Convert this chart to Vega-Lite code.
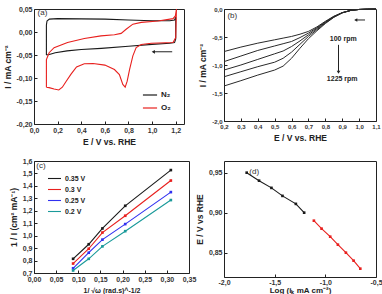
{
  "$schema": "https://vega.github.io/schema/vega-lite/v6.json",
  "padding": {"left": 2, "top": 4, "right": 2, "bottom": 0},
  "background": "white",
  "config": {
    "font": "Liberation Sans",
    "locale": {"number": {"decimal": ",", "thousands": ".", "grouping": [3], "currency": ["", ""], "minus": "-"}},
    "view": {"stroke": "#222", "strokeWidth": 1},
    "axis": {"grid": false, "domain": false, "tickColor": "#222", "tickSize": -3, "labelPadding": 5, "labelFontSize": 7, "labelFontWeight": "bold", "labelColor": "#333", "titleFontSize": 8.5, "titleFontWeight": "bold", "titleColor": "#222", "titlePadding": 4, "labelFlush": false, "labelOverlap": false},
    "legend": {"title": null, "labelFontWeight": "bold", "labelColor": "#222"}
  },
  "datasets": {
    "cv": [
      {"gas": "N₂", "i": 1, "E": 0.105, "I": -0.05},
      {"gas": "N₂", "i": 2, "E": 0.105, "I": 0.015},
      {"gas": "N₂", "i": 3, "E": 0.11, "I": 0.024},
      {"gas": "N₂", "i": 4, "E": 0.13, "I": 0.028},
      {"gas": "N₂", "i": 5, "E": 0.2, "I": 0.029},
      {"gas": "N₂", "i": 6, "E": 0.4, "I": 0.0285},
      {"gas": "N₂", "i": 7, "E": 0.6, "I": 0.028},
      {"gas": "N₂", "i": 8, "E": 0.8, "I": 0.026},
      {"gas": "N₂", "i": 9, "E": 1.0, "I": 0.0245},
      {"gas": "N₂", "i": 10, "E": 1.15, "I": 0.0245},
      {"gas": "N₂", "i": 11, "E": 1.19, "I": 0.026},
      {"gas": "N₂", "i": 12, "E": 1.2, "I": 0.032},
      {"gas": "N₂", "i": 13, "E": 1.2, "I": -0.015},
      {"gas": "N₂", "i": 14, "E": 1.19, "I": -0.023},
      {"gas": "N₂", "i": 15, "E": 1.15, "I": -0.0245},
      {"gas": "N₂", "i": 16, "E": 1.0, "I": -0.027},
      {"gas": "N₂", "i": 17, "E": 0.8, "I": -0.031},
      {"gas": "N₂", "i": 18, "E": 0.57, "I": -0.0355},
      {"gas": "N₂", "i": 19, "E": 0.4, "I": -0.038},
      {"gas": "N₂", "i": 20, "E": 0.28, "I": -0.041},
      {"gas": "N₂", "i": 21, "E": 0.18, "I": -0.045},
      {"gas": "N₂", "i": 22, "E": 0.13, "I": -0.049},
      {"gas": "N₂", "i": 23, "E": 0.105, "I": -0.05},
      {"gas": "O₂", "i": 1, "E": 0.105, "I": -0.12},
      {"gas": "O₂", "i": 2, "E": 0.105, "I": -0.06},
      {"gas": "O₂", "i": 3, "E": 0.128, "I": -0.045},
      {"gas": "O₂", "i": 4, "E": 0.17, "I": -0.034},
      {"gas": "O₂", "i": 5, "E": 0.284, "I": -0.023},
      {"gas": "O₂", "i": 6, "E": 0.426, "I": -0.014},
      {"gas": "O₂", "i": 7, "E": 0.567, "I": -0.0085},
      {"gas": "O₂", "i": 8, "E": 0.681, "I": -0.006},
      {"gas": "O₂", "i": 9, "E": 0.738, "I": -0.003},
      {"gas": "O₂", "i": 10, "E": 0.78, "I": 0.006},
      {"gas": "O₂", "i": 11, "E": 0.837, "I": 0.017},
      {"gas": "O₂", "i": 12, "E": 0.908, "I": 0.021},
      {"gas": "O₂", "i": 13, "E": 1.05, "I": 0.024},
      {"gas": "O₂", "i": 14, "E": 1.177, "I": 0.029},
      {"gas": "O₂", "i": 15, "E": 1.197, "I": 0.035},
      {"gas": "O₂", "i": 16, "E": 1.206, "I": 0.05},
      {"gas": "O₂", "i": 17, "E": 1.2, "I": -0.012},
      {"gas": "O₂", "i": 18, "E": 1.177, "I": -0.023},
      {"gas": "O₂", "i": 19, "E": 0.993, "I": -0.0246},
      {"gas": "O₂", "i": 20, "E": 0.908, "I": -0.027},
      {"gas": "O₂", "i": 21, "E": 0.865, "I": -0.034},
      {"gas": "O₂", "i": 22, "E": 0.837, "I": -0.052},
      {"gas": "O₂", "i": 23, "E": 0.809, "I": -0.0816},
      {"gas": "O₂", "i": 24, "E": 0.789, "I": -0.107},
      {"gas": "O₂", "i": 25, "E": 0.772, "I": -0.12},
      {"gas": "O₂", "i": 26, "E": 0.752, "I": -0.114},
      {"gas": "O₂", "i": 27, "E": 0.723, "I": -0.0925},
      {"gas": "O₂", "i": 28, "E": 0.681, "I": -0.0816},
      {"gas": "O₂", "i": 29, "E": 0.6, "I": -0.072},
      {"gas": "O₂", "i": 30, "E": 0.5, "I": -0.0685},
      {"gas": "O₂", "i": 31, "E": 0.426, "I": -0.069},
      {"gas": "O₂", "i": 32, "E": 0.36, "I": -0.076},
      {"gas": "O₂", "i": 33, "E": 0.312, "I": -0.092},
      {"gas": "O₂", "i": 34, "E": 0.27, "I": -0.108},
      {"gas": "O₂", "i": 35, "E": 0.24, "I": -0.12},
      {"gas": "O₂", "i": 36, "E": 0.21, "I": -0.126},
      {"gas": "O₂", "i": 37, "E": 0.17, "I": -0.124},
      {"gas": "O₂", "i": 38, "E": 0.128, "I": -0.121},
      {"gas": "O₂", "i": 39, "E": 0.105, "I": -0.12}
    ],
    "lsv": [
      {"rpm": 100, "E": 0.2, "I": -0.76}, {"rpm": 100, "E": 0.3, "I": -0.68}, {"rpm": 100, "E": 0.4, "I": -0.61}, {"rpm": 100, "E": 0.5, "I": -0.55}, {"rpm": 100, "E": 0.55, "I": -0.52}, {"rpm": 100, "E": 0.6, "I": -0.49}, {"rpm": 100, "E": 0.65, "I": -0.45}, {"rpm": 100, "E": 0.7, "I": -0.4}, {"rpm": 100, "E": 0.75, "I": -0.32}, {"rpm": 100, "E": 0.8, "I": -0.22}, {"rpm": 100, "E": 0.85, "I": -0.13}, {"rpm": 100, "E": 0.9, "I": -0.065}, {"rpm": 100, "E": 0.95, "I": -0.025}, {"rpm": 100, "E": 1.0, "I": -0.008}, {"rpm": 100, "E": 1.05, "I": -0.002}, {"rpm": 100, "E": 1.1, "I": 0},
      {"rpm": 225, "E": 0.2, "I": -0.94}, {"rpm": 225, "E": 0.3, "I": -0.84}, {"rpm": 225, "E": 0.4, "I": -0.74}, {"rpm": 225, "E": 0.5, "I": -0.66}, {"rpm": 225, "E": 0.55, "I": -0.62}, {"rpm": 225, "E": 0.6, "I": -0.58}, {"rpm": 225, "E": 0.65, "I": -0.51}, {"rpm": 225, "E": 0.7, "I": -0.43}, {"rpm": 225, "E": 0.75, "I": -0.335}, {"rpm": 225, "E": 0.8, "I": -0.23}, {"rpm": 225, "E": 0.85, "I": -0.135}, {"rpm": 225, "E": 0.9, "I": -0.066}, {"rpm": 225, "E": 0.95, "I": -0.025}, {"rpm": 225, "E": 1.0, "I": -0.008}, {"rpm": 225, "E": 1.05, "I": -0.002}, {"rpm": 225, "E": 1.1, "I": 0},
      {"rpm": 400, "E": 0.2, "I": -1.09}, {"rpm": 400, "E": 0.3, "I": -1.0}, {"rpm": 400, "E": 0.4, "I": -0.9}, {"rpm": 400, "E": 0.5, "I": -0.8}, {"rpm": 400, "E": 0.55, "I": -0.75}, {"rpm": 400, "E": 0.6, "I": -0.67}, {"rpm": 400, "E": 0.65, "I": -0.57}, {"rpm": 400, "E": 0.7, "I": -0.46}, {"rpm": 400, "E": 0.75, "I": -0.35}, {"rpm": 400, "E": 0.8, "I": -0.24}, {"rpm": 400, "E": 0.85, "I": -0.14}, {"rpm": 400, "E": 0.9, "I": -0.067}, {"rpm": 400, "E": 0.95, "I": -0.025}, {"rpm": 400, "E": 1.0, "I": -0.008}, {"rpm": 400, "E": 1.05, "I": -0.002}, {"rpm": 400, "E": 1.1, "I": 0},
      {"rpm": 625, "E": 0.2, "I": -1.21}, {"rpm": 625, "E": 0.3, "I": -1.12}, {"rpm": 625, "E": 0.4, "I": -1.03}, {"rpm": 625, "E": 0.5, "I": -0.95}, {"rpm": 625, "E": 0.55, "I": -0.88}, {"rpm": 625, "E": 0.6, "I": -0.77}, {"rpm": 625, "E": 0.65, "I": -0.63}, {"rpm": 625, "E": 0.7, "I": -0.49}, {"rpm": 625, "E": 0.75, "I": -0.37}, {"rpm": 625, "E": 0.8, "I": -0.25}, {"rpm": 625, "E": 0.85, "I": -0.145}, {"rpm": 625, "E": 0.9, "I": -0.068}, {"rpm": 625, "E": 0.95, "I": -0.026}, {"rpm": 625, "E": 1.0, "I": -0.008}, {"rpm": 625, "E": 1.05, "I": -0.002}, {"rpm": 625, "E": 1.1, "I": 0},
      {"rpm": 1225, "E": 0.2, "I": -1.375}, {"rpm": 1225, "E": 0.3, "I": -1.28}, {"rpm": 1225, "E": 0.4, "I": -1.18}, {"rpm": 1225, "E": 0.5, "I": -1.09}, {"rpm": 1225, "E": 0.55, "I": -1.02}, {"rpm": 1225, "E": 0.6, "I": -0.88}, {"rpm": 1225, "E": 0.65, "I": -0.7}, {"rpm": 1225, "E": 0.7, "I": -0.53}, {"rpm": 1225, "E": 0.75, "I": -0.39}, {"rpm": 1225, "E": 0.8, "I": -0.26}, {"rpm": 1225, "E": 0.85, "I": -0.15}, {"rpm": 1225, "E": 0.9, "I": -0.07}, {"rpm": 1225, "E": 0.95, "I": -0.027}, {"rpm": 1225, "E": 1.0, "I": -0.008}, {"rpm": 1225, "E": 1.05, "I": -0.002}, {"rpm": 1225, "E": 1.1, "I": 0}
    ],
    "kl": [
      {"pot": "0.35 V", "x": 0.0883, "y": 0.814}, {"pot": "0.35 V", "x": 0.1236, "y": 0.931}, {"pot": "0.35 V", "x": 0.1545, "y": 1.058}, {"pot": "0.35 V", "x": 0.206, "y": 1.24}, {"pot": "0.35 V", "x": 0.309, "y": 1.527},
      {"pot": "0.3 V", "x": 0.0883, "y": 0.776}, {"pot": "0.3 V", "x": 0.1236, "y": 0.895}, {"pot": "0.3 V", "x": 0.1545, "y": 1.025}, {"pot": "0.3 V", "x": 0.206, "y": 1.16}, {"pot": "0.3 V", "x": 0.309, "y": 1.443},
      {"pot": "0.25 V", "x": 0.0883, "y": 0.738}, {"pot": "0.25 V", "x": 0.1236, "y": 0.863}, {"pot": "0.25 V", "x": 0.1545, "y": 0.968}, {"pot": "0.25 V", "x": 0.206, "y": 1.093}, {"pot": "0.25 V", "x": 0.309, "y": 1.35},
      {"pot": "0.2 V", "x": 0.0883, "y": 0.72}, {"pot": "0.2 V", "x": 0.1236, "y": 0.814}, {"pot": "0.2 V", "x": 0.1545, "y": 0.914}, {"pot": "0.2 V", "x": 0.206, "y": 1.036}, {"pot": "0.2 V", "x": 0.309, "y": 1.286}
    ],
    "tafel": [
      {"seg": "low", "x": -1.776, "y": 0.95}, {"seg": "low", "x": -1.654, "y": 0.94}, {"seg": "low", "x": -1.532, "y": 0.931}, {"seg": "low", "x": -1.423, "y": 0.921}, {"seg": "low", "x": -1.291, "y": 0.911}, {"seg": "low", "x": -1.209, "y": 0.9},
      {"seg": "high", "x": -1.113, "y": 0.89}, {"seg": "high", "x": -1.037, "y": 0.88}, {"seg": "high", "x": -0.952, "y": 0.87}, {"seg": "high", "x": -0.876, "y": 0.86}, {"seg": "high", "x": -0.797, "y": 0.85}, {"seg": "high", "x": -0.721, "y": 0.84}, {"seg": "high", "x": -0.655, "y": 0.83}
    ]
  },
  "bounds": "flush",
  "columns": 2,
  "spacing": {"column": 35, "row": 37},
  "resolve": {"scale": {"color": "independent"}, "legend": {"color": "independent"}},
  "concat": [
    {
      "width": 150, "height": 115,
      "layer": [
        {
          "data": {"name": "cv"},
          "mark": {"type": "line", "strokeWidth": 1.1},
          "encoding": {
            "x": {"field": "E", "type": "quantitative", "scale": {"domain": [0, 1.27], "nice": false}, "axis": {"title": "E / V vs. RHE", "values": [0, 0.2, 0.4, 0.6, 0.8, 1.0, 1.2], "format": ".1f"}},
            "y": {"field": "I", "type": "quantitative", "scale": {"domain": [-0.2, 0.05], "nice": false}, "axis": {"title": "I / mA cm⁻²", "values": [-0.2, -0.15, -0.1, -0.05, 0, 0.05], "format": ".2f"}},
            "color": {"field": "gas", "type": "nominal", "scale": {"domain": ["N₂", "O₂"], "range": ["#1a1a1a", "#e8201e"]}, "legend": {"orient": "none", "legendX": 108, "legendY": 78, "symbolType": "stroke", "symbolSize": 200, "symbolStrokeWidth": 1.2, "labelFontSize": 8, "rowPadding": 1, "labelOffset": 3}},
            "order": {"field": "i", "type": "quantitative"}
          }
        },
        {
          "data": {"values": [{}]},
          "mark": {"type": "rule", "color": "#222", "strokeWidth": 1},
          "encoding": {
            "x": {"datum": 1.01, "type": "quantitative", "axis": {"title": "E / V vs. RHE", "values": [0, 0.2, 0.4, 0.6, 0.8, 1.0, 1.2], "format": ".1f"}},
            "x2": {"datum": 1.17},
            "y": {"datum": -0.043, "type": "quantitative", "axis": {"title": "I / mA cm⁻²", "values": [-0.2, -0.15, -0.1, -0.05, 0, 0.05], "format": ".2f"}}
          }
        },
        {
          "data": {"values": [{}]},
          "mark": {"type": "point", "shape": "triangle-left", "filled": true, "color": "#222", "size": 14, "opacity": 1},
          "encoding": {
            "x": {"datum": 1.01, "type": "quantitative", "axis": {"title": "E / V vs. RHE", "values": [0, 0.2, 0.4, 0.6, 0.8, 1.0, 1.2], "format": ".1f"}},
            "y": {"datum": -0.043, "type": "quantitative", "axis": {"title": "I / mA cm⁻²", "values": [-0.2, -0.15, -0.1, -0.05, 0, 0.05], "format": ".2f"}}
          }
        },
        {
          "data": {"values": [{"t": "(a)"}]},
          "mark": {"type": "text", "fontSize": 8, "align": "left", "baseline": "middle", "color": "#333"},
          "encoding": {
            "text": {"field": "t"},
            "x": {"datum": 0.03, "type": "quantitative", "axis": {"title": "E / V vs. RHE", "values": [0, 0.2, 0.4, 0.6, 0.8, 1.0, 1.2], "format": ".1f"}},
            "y": {"datum": 0.042, "type": "quantitative", "axis": {"title": "I / mA cm⁻²", "values": [-0.2, -0.15, -0.1, -0.05, 0, 0.05], "format": ".2f"}}
          }
        }
      ]
    },
    {
      "width": 152, "height": 112,
      "layer": [
        {
          "data": {"name": "lsv"},
          "mark": {"type": "line", "strokeWidth": 1, "color": "#2a2a2a"},
          "encoding": {
            "x": {"field": "E", "type": "quantitative", "scale": {"domain": [0.2, 1.1], "nice": false}, "axis": {"title": "E / V vs. RHE", "values": [0.2, 0.3, 0.4, 0.5, 0.6, 0.7, 0.8, 0.9, 1.0, 1.1], "format": ".1f", "labelFontSize": 6}},
            "y": {"field": "I", "type": "quantitative", "scale": {"domain": [-2, 0], "nice": false}, "axis": {"title": "I / mA cm⁻²", "values": [-2, -1.5, -1, -0.5, 0], "format": ".1f", "labelFontSize": 6}},
            "detail": {"field": "rpm", "type": "nominal"}
          }
        },
        {
          "data": {"values": [{"t": "100 rpm", "E": 0.906, "I": -0.54}, {"t": "1225 rpm", "E": 0.9, "I": -1.25}]},
          "mark": {"type": "text", "fontSize": 7, "fontWeight": "bold", "color": "#222"},
          "encoding": {
            "text": {"field": "t"},
            "x": {"field": "E", "type": "quantitative", "axis": {"title": "E / V vs. RHE", "values": [0.2, 0.3, 0.4, 0.5, 0.6, 0.7, 0.8, 0.9, 1.0, 1.1], "format": ".1f", "labelFontSize": 6}},
            "y": {"field": "I", "type": "quantitative", "axis": {"title": "I / mA cm⁻²", "values": [-2, -1.5, -1, -0.5, 0], "format": ".1f", "labelFontSize": 6}}
          }
        },
        {
          "data": {"values": [{"t": "(b)", "E": 0.22, "I": -0.12}]},
          "mark": {"type": "text", "fontSize": 8, "align": "left", "baseline": "middle", "color": "#333"},
          "encoding": {
            "text": {"field": "t"},
            "x": {"field": "E", "type": "quantitative", "axis": {"title": "E / V vs. RHE", "values": [0.2, 0.3, 0.4, 0.5, 0.6, 0.7, 0.8, 0.9, 1.0, 1.1], "format": ".1f", "labelFontSize": 6}},
            "y": {"field": "I", "type": "quantitative", "axis": {"title": "I / mA cm⁻²", "values": [-2, -1.5, -1, -0.5, 0], "format": ".1f", "labelFontSize": 6}}
          }
        },
        {
          "data": {"values": [{"E": 0.878, "I": -0.64, "I2": -1.12}]},
          "mark": {"type": "rule", "color": "#222", "strokeWidth": 1},
          "encoding": {
            "x": {"field": "E", "type": "quantitative", "axis": {"title": "E / V vs. RHE", "values": [0.2, 0.3, 0.4, 0.5, 0.6, 0.7, 0.8, 0.9, 1.0, 1.1], "format": ".1f", "labelFontSize": 6}},
            "y": {"field": "I", "type": "quantitative", "axis": {"title": "I / mA cm⁻²", "values": [-2, -1.5, -1, -0.5, 0], "format": ".1f", "labelFontSize": 6}},
            "y2": {"field": "I2"}
          }
        },
        {
          "data": {"values": [{"E": 0.98, "E2": 1.035, "I": -0.196}]},
          "mark": {"type": "rule", "color": "#222", "strokeWidth": 1},
          "encoding": {
            "x": {"field": "E", "type": "quantitative", "axis": {"title": "E / V vs. RHE", "values": [0.2, 0.3, 0.4, 0.5, 0.6, 0.7, 0.8, 0.9, 1.0, 1.1], "format": ".1f", "labelFontSize": 6}},
            "x2": {"field": "E2"},
            "y": {"field": "I", "type": "quantitative", "axis": {"title": "I / mA cm⁻²", "values": [-2, -1.5, -1, -0.5, 0], "format": ".1f", "labelFontSize": 6}}
          }
        },
        {
          "data": {"values": [{"E": 0.878, "I": -1.13, "dir": "down"}, {"E": 0.98, "I": -0.196, "dir": "left"}]},
          "mark": {"type": "point", "filled": true, "color": "#222", "size": 13, "opacity": 1},
          "encoding": {
            "x": {"field": "E", "type": "quantitative", "axis": {"title": "E / V vs. RHE", "values": [0.2, 0.3, 0.4, 0.5, 0.6, 0.7, 0.8, 0.9, 1.0, 1.1], "format": ".1f", "labelFontSize": 6}},
            "y": {"field": "I", "type": "quantitative", "axis": {"title": "I / mA cm⁻²", "values": [-2, -1.5, -1, -0.5, 0], "format": ".1f", "labelFontSize": 6}},
            "shape": {"field": "dir", "type": "nominal", "scale": {"domain": ["down", "left"], "range": ["triangle-down", "triangle-left"]}, "legend": null}
          }
        }
      ]
    },
    {
      "width": 155, "height": 112,
      "layer": [
        {
          "data": {"name": "kl"},
          "mark": {"type": "line", "strokeWidth": 1.1, "point": {"shape": "square", "size": 7, "filled": true}},
          "encoding": {
            "x": {"field": "x", "type": "quantitative", "scale": {"domain": [0, 0.35], "nice": false}, "axis": {"title": "1/ √ω (rad.s)^-1/2", "values": [0, 0.05, 0.1, 0.15, 0.2, 0.25, 0.3, 0.35], "format": ".2f", "titleFontSize": 7}},
            "y": {"field": "y", "type": "quantitative", "scale": {"domain": [0.7, 1.6], "nice": false}, "axis": {"title": "1 / I (cm² mA⁻¹)", "values": [0.7, 0.8, 0.9, 1.0, 1.1, 1.2, 1.3, 1.4, 1.5, 1.6], "format": ".1f"}},
            "color": {"field": "pot", "type": "nominal", "scale": {"domain": ["0.35 V", "0.3 V", "0.25 V", "0.2 V"], "range": ["#1a1a1a", "#e8201e", "#3030f0", "#1a9a9a"]}, "legend": {"orient": "none", "legendX": 13, "legendY": 10, "symbolType": "stroke", "symbolSize": 169, "symbolStrokeWidth": 1.1, "labelFontSize": 7, "rowPadding": -3.5, "labelOffset": 3}}
          }
        },
        {
          "data": {"values": [{"t": "(c)", "x": 0.005, "y": 1.56}]},
          "mark": {"type": "text", "fontSize": 8, "align": "left", "baseline": "middle", "color": "#333"},
          "encoding": {
            "text": {"field": "t"},
            "x": {"field": "x", "type": "quantitative", "axis": {"title": "1/ √ω (rad.s)^-1/2", "values": [0, 0.05, 0.1, 0.15, 0.2, 0.25, 0.3, 0.35], "format": ".2f", "titleFontSize": 7}},
            "y": {"field": "y", "type": "quantitative", "axis": {"title": "1 / I (cm² mA⁻¹)", "values": [0.7, 0.8, 0.9, 1.0, 1.1, 1.2, 1.3, 1.4, 1.5, 1.6], "format": ".1f"}}
          }
        }
      ]
    },
    {
      "width": 152, "height": 116,
      "layer": [
        {
          "data": {"name": "tafel"},
          "mark": {"type": "line", "strokeWidth": 1.1, "point": {"shape": "square", "size": 7, "filled": true}},
          "encoding": {
            "x": {"field": "x", "type": "quantitative", "scale": {"domain": [-2, -0.5], "nice": false}, "axis": {"title": "Log (iₖ mA cm⁻²)", "values": [-2, -1.5, -1, -0.5], "format": ".1f", "labelPadding": 4, "titlePadding": 1, "titleFontSize": 8}},
            "y": {"field": "y", "type": "quantitative", "scale": {"domain": [0.8196, 0.9646], "nice": false, "zero": false}, "axis": {"title": "E / V vs RHE", "values": [0.85, 0.9, 0.95], "format": ".2f"}},
            "color": {"field": "seg", "type": "nominal", "scale": {"domain": ["low", "high"], "range": ["#1a1a1a", "#e8201e"]}, "legend": null}
          }
        },
        {
          "data": {"values": [{"t": "(d)", "x": -1.75, "y": 0.951}]},
          "mark": {"type": "text", "fontSize": 8, "align": "left", "baseline": "middle", "color": "#333"},
          "encoding": {
            "text": {"field": "t"},
            "x": {"field": "x", "type": "quantitative", "axis": {"title": "Log (iₖ mA cm⁻²)", "values": [-2, -1.5, -1, -0.5], "format": ".1f", "labelPadding": 4, "titlePadding": 1, "titleFontSize": 8}},
            "y": {"field": "y", "type": "quantitative", "axis": {"title": "E / V vs RHE", "values": [0.85, 0.9, 0.95], "format": ".2f"}}
          }
        }
      ]
    }
  ]
}
